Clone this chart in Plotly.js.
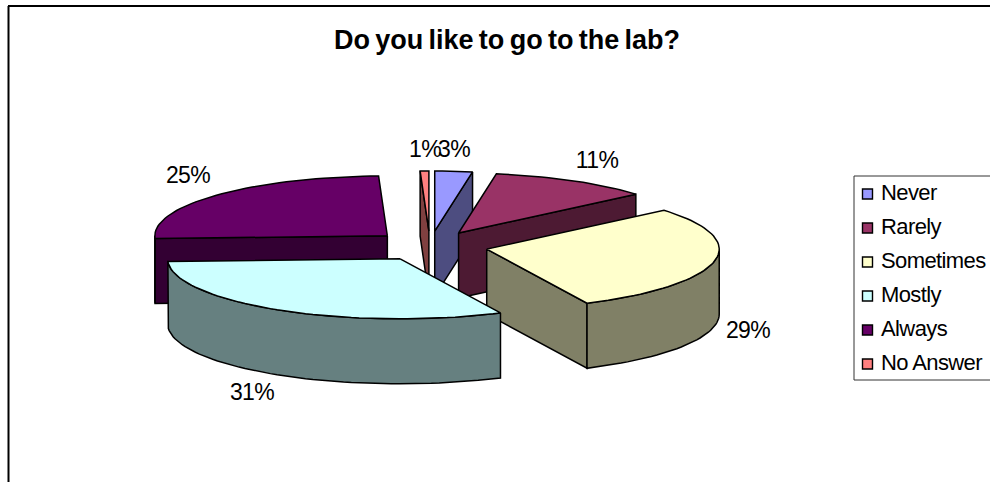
<!DOCTYPE html>
<html><head><meta charset="utf-8">
<script src="https://cdn.plot.ly/plotly-3.0.1.min.js"></script>
<style>html,body{margin:0;padding:0;background:#fff;overflow:hidden}#c{width:990px;height:482px}
.gtitle{letter-spacing:0;word-spacing:-2.2px}
.textpoint text{letter-spacing:-0.6px}</style>
</head><body><div id="c"></div>
<script>
const categories = ["Never","Rarely","Sometimes","Mostly","Always","No Answer"];
const values = [2.6,11.2,29.1,31.4,25.1,0.6];
const topColors = ["#9999FF","#993366","#FFFFCC","#CCFFFF","#660066","#FF8080"];
const sideColors = ["#4D4D80","#4D1A33","#808066","#668080","#330033","#804040"];
const labelX = [454,597,748,252,188,425];
const labelY = [151,162,332,394,177,151];
const legendY = [194,228,262,296,330,364];
const drawOrder = [4,5,0,1,2,3];

const CX=430, CY=246, RX=232.5, RY=60, DEPTH=65, EXPLODE=58;
const FONT="Liberation Sans, Arial, sans-serif";
const rad=d=>d*Math.PI/180;
const total=values.reduce((a,b)=>a+b,0);
let cum=0;
const slices=values.map((v,i)=>{const s=cum/total*360;cum+=v;const e=cum/total*360;
  const b=rad((s+e)/2);
  return {i,s,e,ax:CX+EXPLODE*Math.sin(b),ay:CY-EXPLODE*(RY/RX)*Math.cos(b)};});
const pt=(sl,a,dz=0)=>[sl.ax+RX*Math.sin(rad(a)),sl.ay-RY*Math.cos(rad(a))+dz];
const arc=(sl,a0,a1,dz=0)=>{const n=Math.max(1,Math.ceil(Math.abs(a1-a0)/2));const o=[];
  for(let k=0;k<=n;k++)o.push(pt(sl,a0+(a1-a0)*k/n,dz));return o;};
const poly=(points,color,name)=>({type:"scatter",mode:"lines",x:[...points.map(p=>p[0]),points[0][0]],
  y:[...points.map(p=>p[1]),points[0][1]],fill:"toself",fillcolor:color,
  line:{color:"#000",width:1.5},hoverinfo:"name",name,showlegend:false});

const traces=[];
for(const idx of drawOrder){const sl=slices[idx];const name=categories[idx];const side=sideColors[idx];
  const A=[sl.ax,sl.ay],Ad=[sl.ax,sl.ay+DEPTH];
  if(sl.s>180) traces.push(poly([A,pt(sl,sl.s),pt(sl,sl.s,DEPTH),Ad],side,name));
  if(sl.e<180) traces.push(poly([A,pt(sl,sl.e),pt(sl,sl.e,DEPTH),Ad],side,name));
  const w0=Math.max(sl.s,90),w1=Math.min(sl.e,270);
  if(w1>w0) traces.push(poly([...arc(sl,w0,w1),...arc(sl,w1,w0,DEPTH)],side,name));
  traces.push(poly([A,...arc(sl,sl.s,sl.e)],topColors[idx],name));
}
traces.push({type:"scatter",mode:"text",x:labelX,y:labelY,
  text:values.map(v=>Math.round(v/total*100)+"%"),textposition:"middle center",
  textfont:{family:FONT,size:23,color:"#000"},hoverinfo:"skip",showlegend:false});
traces.push({type:"scatter",mode:"markers",x:categories.map(()=>867.5),y:legendY,
  marker:{symbol:"square",size:10,color:topColors,line:{color:"#000",width:1.4}},
  hoverinfo:"skip",showlegend:false});
traces.push({type:"scatter",mode:"text",x:categories.map(()=>881),y:legendY,text:categories,
  textposition:"middle right",textfont:{family:FONT,size:22,color:"#000"},hoverinfo:"skip",showlegend:false});

const layout={width:990,height:482,margin:{l:0,r:0,t:0,b:0},paper_bgcolor:"#fff",plot_bgcolor:"#fff",showlegend:false,
  title:{text:"<b>Do you like to go to the lab?</b>",font:{family:FONT,size:27,color:"#000"},
    x:507/990,xanchor:"center",y:1-40/482,yanchor:"middle"},
  xaxis:{range:[0,990],visible:false,fixedrange:true},
  yaxis:{range:[482,0],visible:false,fixedrange:true},
  shapes:[
    {type:"line",xref:"x",yref:"y",x0:8,x1:990,y0:6,y1:6,line:{color:"#000",width:2},layer:"below"},
    {type:"line",xref:"x",yref:"y",x0:8.5,x1:8.5,y0:6,y1:482,line:{color:"#000",width:2},layer:"below"},
    {type:"rect",xref:"x",yref:"y",x0:854,x1:1000,y0:176,y1:380,line:{color:"#333",width:1},fillcolor:"rgba(0,0,0,0)",layer:"below"}
  ]};
Plotly.newPlot("c",traces,layout,{displayModeBar:false,staticPlot:true});
</script></body></html>
